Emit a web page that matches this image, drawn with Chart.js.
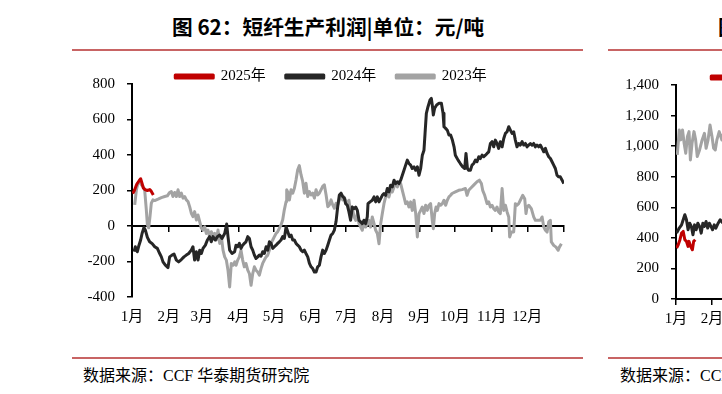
<!DOCTYPE html>
<html>
<head>
<meta charset="utf-8">
<script src="https://cdn.jsdelivr.net/npm/chart.js@4.4.1/dist/chart.umd.min.js"></script>
<style>
  html, body { margin: 0; padding: 0; background: #fff; }
  body { position: relative; width: 722px; height: 394px; overflow: hidden; }
  .title { position: absolute; top: 11px; line-height: 20px; font: bold 20.7px "Noto Sans CJK SC", sans-serif; color: #000; white-space: nowrap; }
  .rule { position: absolute; height: 2px; background: #c86464; }
  .src { position: absolute; top: 362px; line-height: 20px; font: 16px "Liberation Serif", "Noto Sans CJK SC", serif; color: #000; white-space: nowrap; }
  canvas { position: absolute; }
</style>
</head>
<body>
<div class="title" style="left:172px">图 62：短纤生产利润|单位：元/吨</div>
<div class="rule" style="left:72px;width:511px;top:49px"></div>
<canvas id="profitChart" width="518" height="288" style="left:72px;top:49px"></canvas>
<div class="rule" style="left:72px;width:511px;top:357px"></div>
<div class="src" style="left:83px">数据来源：CCF 华泰期货研究院</div>

<div class="title" style="left:718px">图 63：短纤加工费|单位：元/吨</div>
<div class="rule" style="left:608px;width:511px;top:49px"></div>
<canvas id="feeChart" width="518" height="289" style="left:608px;top:50px"></canvas>
<div class="rule" style="left:608px;width:511px;top:357px"></div>
<div class="src" style="left:620px">数据来源：CCF 华泰期货研究院</div>

<script>
// x values are day of year (0 = 1月1日), shared by every year so the lines overlay
const MONTH_STARTS = [0, 31, 59, 90, 120, 151, 181, 212, 243, 273, 304, 334, 365];
const MONTH_LABELS = ['1月', '2月', '3月', '4月', '5月', '6月', '7月', '8月', '9月', '10月', '11月', '12月', ''];
const SERIES_NAMES = ['2025年', '2024年', '2023年'];
const SERIES_COLORS = ['#c00000', '#262626', '#a3a3a3'];

// 短纤生产利润 元/吨
const days2025 = [0.6, 2, 4, 6, 7.3, 8.5, 9.5, 11, 13, 15, 16, 18];
const profit2025 = [183, 200, 235, 255, 266, 240, 215, 205, 200, 205, 198, 175];

const days2024 = [1.7, 2.8, 4.5, 5.9, 7.3, 8.5, 10.1, 11.3, 13, 14.9, 16.9, 19.2, 21.4, 23.4, 24.8, 26.2, 28.2, 30.4, 31.8, 33.8,
  35.5, 37.5, 39.4, 41.7, 43.9, 45.9, 47.9, 50.1, 51.5, 52.9, 54.4, 55.8, 57.2, 58.6, 60, 62, 63.7, 65.6, 67, 68.4,
  70.4, 72.1, 74.1, 76, 78.3, 80, 81.1, 82.5, 84.5, 86.7, 87.9, 89.3, 90.7, 92.1, 93.5, 94.9, 96.3, 97.8, 99.2, 100.6,
  102, 103.4, 104.8, 106.2, 107.6, 109, 110.4, 111.8, 113.3, 114.7, 116.1, 117.5, 118.9, 120.3, 121.7, 123.1, 124.5, 125.9, 127.3, 128.7,
  130.2, 131.6, 133, 134.4, 135.8, 137.2, 138.6, 140, 141.4, 142.8, 144.2, 145.6, 147, 148.5, 149.9, 151.3, 152.7, 154.1, 155.5, 156.9,
  158.3, 159.7, 161.1, 162.5, 164, 165.4, 166.8, 168.2, 169.6, 171, 172.4, 173.8, 175.2, 176.6, 178, 179.4, 180.5, 181.9, 183.3, 184.7,
  186.1, 187.6, 189, 190.4, 191.8, 193.2, 194.6, 196, 197.4, 198.8, 199.4, 201.1, 203, 204.5, 205.9, 207.3, 208.7, 210.1, 211.5, 212.9,
  214.3, 215.7, 217.1, 218.5, 219.9, 221.4, 222.8, 224.2, 225.6, 227, 228.4, 229.8, 231.2, 232.6, 234, 235.4, 236.8, 238.3, 239.7, 241.1,
  242.5, 243.9, 245.3, 246.7, 247.6, 248.7, 250.1, 251.8, 252.9, 253.7, 254.6, 255.7, 257.4, 259.4, 261.4, 262.8, 263.6, 265, 266.4, 267.8,
  269.2, 270.7, 272.1, 273.2, 275.5, 277.4, 279.4, 281.1, 282.2, 283.4, 284.5, 285.9, 287.3, 288.7, 290.1, 291.5, 293, 294.3, 295.8, 297.2,
  298.6, 300, 301.4, 302.8, 304.2, 305.6, 307, 308.4, 309.8, 311.2, 312.7, 314.1, 315.5, 316.9, 318.3, 319.7, 321.1, 322.5, 323.9, 325.3,
  326.7, 328.1, 329.6, 331, 332.4, 333.8, 335.2, 336.6, 338, 339.4, 340.8, 342.2, 343.6, 345, 346.5, 347.9, 349.3, 350.7, 352.1, 353.5,
  354.9, 356.3, 357.7, 359.1, 360.5, 361.9, 363.4, 364.8];
const profit2024 = [-145, -117, -145, -108, -79, -42, -8, -23, -64, -89, -98, -117, -126, -155, -174, -202, -221, -234, -174, -164,
  -158, -192, -202, -189, -174, -164, -155, -136, -117, -192, -145, -192, -136, -155, -126, -108, -79, -60, -89, -60,
  -79, -60, -51, -70, -42, 11, -60, -136, -155, -145, -108, -117, -98, -126, -108, -98, -89, -60, -70, -117,
  -136, -164, -183, -174, -164, -170, -145, -155, -117, -136, -89, -98, -126, -117, -108, -98, -89, -79, -60, -70,
  -4, -32, -60, -51, -79, -79, -98, -108, -117, -136, -145, -136, -155, -174, -211, -230, -240, -259, -259, -230,
  -221, -174, -136, -155, -136, -108, -79, -51, -42, -23, 25, 109, 175, 185, 166, 157, 126, 117, 79, 32,
  107, 98, 107, 88, 32, 23, 13, 32, 13, 51, 126, 136, 145, 164, 136, 164, 136, 154, 173, 183,
  173, 211, 192, 230, 220, 258, 239, 249, 239, 258, 286, 314, 343, 371, 352, 343, 324, 333, 314, 333,
  286, 324, 399, 427, 522, 635, 672, 710, 719, 682, 625, 663, 682, 691, 691, 635, 559, 550, 540, 512,
  512, 484, 446, 399, 371, 352, 333, 324, 409, 324, 314, 314, 343, 352, 371, 362, 390, 380, 399, 390,
  399, 409, 418, 465, 475, 446, 484, 465, 437, 475, 446, 493, 522, 531, 559, 540, 522, 531, 484, 446,
  465, 456, 475, 456, 465, 446, 456, 465, 456, 465, 446, 456, 446, 456, 437, 418, 437, 409, 390, 380,
  362, 343, 324, 286, 277, 277, 258, 239];

const days2023 = [2.3, 3.7, 5.1, 6.5, 7.9, 9.3, 10.7, 12.1, 13, 14.1, 15.2, 16.3, 17.7, 19.2, 22, 24.8, 27.6, 29.9, 31.8, 33.2,
  34.6, 36, 37.5, 38.9, 40.3, 41.7, 43.1, 44.5, 45.9, 47.3, 48.7, 50.1, 51.5, 52.9, 54.4, 55.8, 57.2, 58.6, 60, 61.4,
  62.8, 64.2, 65.6, 67, 68.4, 69.9, 71.3, 72.7, 74.1, 75.5, 76.9, 78.3, 79.7, 81.1, 82.5, 83.9, 85.4, 86.8, 87.9, 89.3,
  90.7, 92.1, 93.5, 94.9, 96.3, 97.8, 99.2, 100.6, 102, 103.4, 104.8, 106.2, 107.6, 109, 110.4, 111.8, 113.3, 114.7, 116.1, 117.5,
  118.9, 120.3, 121.7, 123.1, 124.5, 125.9, 127.3, 128.7, 130.2, 130.7, 132.1, 133, 134.4, 135.8, 137.2, 138.6, 140, 141.4, 142.8, 144.2,
  145.6, 147, 148.5, 149.9, 151.3, 152.7, 154.1, 155.5, 156.9, 158.3, 159.7, 161.1, 162.5, 164, 165.4, 166.8, 168.2, 169.6, 171, 172.4,
  173.8, 175.2, 176.6, 178, 179.1, 180.5, 181.9, 183.3, 184.7, 186.1, 187.6, 189, 190.4, 191.8, 193.2, 194.6, 196, 197.4, 198.8, 200.2,
  201.6, 203, 204.5, 205.9, 207.3, 208.7, 210.1, 211.5, 212.9, 214.3, 215.7, 217.1, 218.5, 219.9, 221.4, 222.8, 224.2, 225.6, 227, 228.4,
  229.8, 231.2, 232.6, 234, 235.4, 236.8, 238.3, 239.7, 241.1, 242.5, 243.9, 245.3, 246.7, 248.1, 249.5, 250.9, 252.3, 253.7, 254.6, 255.7,
  256.9, 258, 259.4, 260.8, 262.2, 263.6, 265, 266.4, 267.8, 269.2, 270.4, 273.2, 276, 278.9, 281.7, 283.1, 284.5, 285.9, 288.7, 291.5,
  293.5, 295.2, 296.3, 298, 300, 301.4, 302.8, 304.2, 305.6, 307, 308.4, 309.8, 311.2, 312.7, 314.1, 315.5, 316.9, 318.3, 319.1, 320.5,
  322.5, 323.9, 325.3, 326.7, 328.1, 330.1, 331.8, 332.9, 333.8, 335.2, 337.4, 339.4, 340.8, 343.1, 345, 346.5, 347.9, 349.3, 350.7, 352.1,
  353.5, 354.3, 356.3, 358.3, 360, 361.1, 362.8];
const profit2023 = [119, 204, 241, 251, 232, 223, 204, 91, 6, -10, 53, 128, 147, 143, 151, 160, 166, 170, 189, 194,
  166, 189, 166, 204, 166, 185, 157, 166, 147, 138, 109, 72, 53, 81, 34, 62, 25, -13, -23, -4,
  -42, -23, -60, -32, -51, -42, -79, -23, -98, -60, -136, -174, -192, -249, -343, -211, -221, -202, -221, -192,
  -174, -136, -192, -230, -211, -249, -268, -334, -268, -230, -249, -259, -277, -240, -211, -192, -174, -164, -136, -98,
  -79, -60, -42, -32, -13, 6, 34, 91, 138, 204, 185, 147, 204, 185, 213, 260, 317, 340, 289, 251,
  185, 241, 166, 194, 175, 185, 157, 204, 175, 185, 204, 223, 232, 175, 109, 119, 147, 119, 100, 128,
  119, 147, 166, 147, 164, 145, 117, 145, 70, 107, 51, 32, 70, 13, -6, -24, 32, -6, 13, 32,
  -6, 51, 13, -24, -43, -100, 13, 70, 126, 164, 173, 164, 201, 192, 220, 239, 220, 249, 239, 201,
  164, 126, 136, 107, 136, 88, 145, 70, -62, 70, 88, 107, 70, 117, 88, 117, 126, 32, -15, 70,
  107, 88, 126, 117, 126, 145, 117, 145, 164, 173, 183, 192, 201, 205, 211, 173, 201, 211, 230, 249,
  258, 239, 201, 173, 126, 136, 107, 117, 98, 88, 107, 79, 70, 211, 88, 117, 79, 51, -62, -34,
  -34, 126, 117, 126, 145, 173, 154, 70, 107, 117, 98, 51, 32, 32, 32, 51, -6, -24, -34, 23,
  32, -90, -109, -119, -137, -119, -100];

// right-hand panel (cut off by the page edge), 元/吨
const feeDays2025 = [0.5, 1.9, 3.4, 4.8, 6.2, 7.6, 9, 10.4, 11.2, 12.6, 14.1, 15.2, 16.6];
const fee2025 = [333, 355, 388, 431, 442, 388, 377, 344, 377, 344, 322, 377, 388];
const feeDays2024 = [0.5, 2.8, 4.8, 6.2, 7.6, 9, 10.4, 11.8, 13.2, 14.6, 16, 17.4, 18.8, 20.3, 21.7, 23.1, 24.5, 25.9, 27.3, 28.7,
  30.1, 31.5, 32.9, 34.3, 36.3, 38, 40, 42];
const fee2024 = [431, 464, 485, 518, 551, 518, 453, 496, 475, 420, 485, 453, 496, 475, 431, 496, 475, 507, 464, 496,
  475, 453, 485, 464, 496, 518, 500, 520];
const feeDays2023 = [1.1, 2.8, 4.2, 5.6, 7, 8.4, 9.8, 11.2, 12.4, 13.8, 15.5, 16.9, 18.3, 20.3, 22.5, 24.5, 25.9, 27.6, 29.3, 31,
  32.4, 33.8, 35.2, 37.2, 39.5, 42];
const fee2023 = [943, 1106, 1041, 1106, 1019, 954, 1062, 1095, 910, 1019, 1095, 1041, 932, 975, 1041, 1084, 986, 1041, 1139, 1062,
  986, 975, 1041, 1095, 1040, 1120];

const FONT = { family: '"Liberation Serif", "Noto Sans CJK SC", serif', size: 15 };
const toPoints = (days, values) => days.map((d, i) => ({ x: d, y: values[i] }));
const monthTicks = (scale) => { scale.ticks = MONTH_STARTS.map((v) => ({ value: v })); };

// chart.js leaves ~10px under the legend row, the original sits tight on the plot
const legendTrim = {
  id: 'legendTrim',
  afterInit(chart) {
    const fit = chart.legend.fit;
    chart.legend.fit = function () {
      fit.call(this);
      this.height -= 10;
    };
  }
};

function makeChart(id, series, yMin, yMax, yAxisWidth) {
  const ctx = document.getElementById(id).getContext('2d');
  return new Chart(ctx, {
    type: 'line',
    data: {
      datasets: series.map((points, i) => ({
        label: SERIES_NAMES[i],
        data: points,
        borderColor: SERIES_COLORS[i],
        backgroundColor: SERIES_COLORS[i],
        borderWidth: 3,
        borderJoinStyle: 'round',
        pointRadius: 0,
        tension: 0
      }))
    },
    options: {
      responsive: false,
      animation: false,
      layout: { padding: 0 },
      plugins: {
        legend: {
          position: 'top',
          labels: { boxWidth: 38, boxHeight: 3, padding: 20, color: '#000', font: FONT }
        },
        tooltip: { enabled: false }
      },
      scales: {
        // month labels along the bottom edge
        x: {
          type: 'linear', min: 0, max: 365, position: 'bottom',
          afterBuildTicks: monthTicks,
          border: { display: false },
          grid: { display: false, drawTicks: false },
          ticks: { padding: 11, autoSkip: false, maxRotation: 0, color: '#000', font: FONT,
            callback: (v, i) => MONTH_LABELS[i] }
        },
        // axis line + tick marks crossing at zero
        xz: {
          axis: 'x', type: 'linear', min: 0, max: 365, position: { y: 0 },
          afterBuildTicks: monthTicks,
          border: { color: '#000', width: 2 },
          grid: { drawOnChartArea: false, color: '#000', lineWidth: 1.5, tickLength: 5 },
          ticks: { autoSkip: false, maxRotation: 0, callback: () => '' }
        },
        y: {
          min: yMin, max: yMax,
          afterFit: (s) => { s.width = yAxisWidth; },
          border: { color: '#000', width: 2 },
          grid: { drawOnChartArea: false, color: '#000', lineWidth: 1.5, tickLength: 5 },
          ticks: { stepSize: 200, padding: 12, color: '#000', font: FONT }
        },
        // empty right gutter so the legend centres on the whole panel
        yr: {
          position: 'right', min: 0, max: 1,
          afterFit: (s) => { s.width = 26; },
          border: { display: false },
          grid: { display: false, drawTicks: false },
          ticks: { display: false }
        }
      }
    },
    plugins: [legendTrim]
  });
}

makeChart('profitChart', [
  toPoints(days2025, profit2025),
  toPoints(days2024, profit2024),
  toPoints(days2023, profit2023)
], -400, 800, 60);

makeChart('feeChart', [
  toPoints(feeDays2025, fee2025),
  toPoints(feeDays2024, fee2024),
  toPoints(feeDays2023, fee2023)
], 0, 1400, 68);
</script>
</body>
</html>
